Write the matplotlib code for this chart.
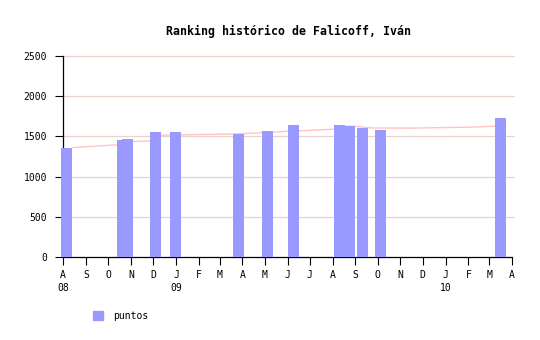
import matplotlib
matplotlib.use("Agg")
import matplotlib.pyplot as plt
import matplotlib.dates as mdates
from matplotlib.patches import Patch
from matplotlib.transforms import blended_transform_factory
import datetime as dt

# ---- data ----
bar_dates = ["2008-07-29", "2008-10-13", "2008-10-20", "2008-11-27", "2008-12-24",
             "2009-03-19", "2009-04-27", "2009-06-01", "2009-08-03", "2009-08-17",
             "2009-09-03", "2009-09-28", "2010-03-09"]
puntos = [1360, 1460, 1470, 1560, 1560, 1530, 1570, 1645, 1645, 1632, 1610, 1582, 1732]

line_dates = ["2008-08-13", "2008-10-13", "2008-11-03", "2008-11-27", "2008-12-11",
              "2009-03-19", "2009-04-03", "2009-05-12", "2009-06-01", "2009-06-16",
              "2009-08-03", "2009-08-17", "2009-09-01", "2009-09-23", "2009-11-15",
              "2010-02-04", "2010-03-09"]
line_vals = [1361, 1395, 1436, 1445, 1515, 1530, 1535, 1550, 1565, 1568,
             1590, 1628, 1625, 1605, 1603, 1615, 1628]

month_labels = ["A", "S", "O", "N", "D", "J", "F", "M", "A", "M", "J",
                "J", "A", "S", "O", "N", "D", "J", "F", "M", "A"]
year_labels = {"2008-08-01": "08", "2009-01-01": "09", "2010-01-01": "10"}
yticks = [0, 500, 1000, 1500, 2000, 2500]
title = "Ranking histórico de Falicoff, Iván"

bar_color = "#9999ff"
line_color = "#ffc4c4"
grid_color = "#e8d4cc"
mono = "DejaVu Sans Mono"

W, H = 540, 340
fig = plt.figure(figsize=(W / 100, H / 100), dpi=100)
ax = fig.add_axes([63 / W, 1 - 257 / H, (512 - 63) / W, (257 - 56) / H])

bd = [mdates.date2num(dt.datetime.fromisoformat(d)) for d in bar_dates]
ld = [mdates.date2num(dt.datetime.fromisoformat(d)) for d in line_dates]

ax.plot(ld, line_vals, color=line_color, lw=1.0, zorder=2, solid_capstyle="butt")
ax.bar(bd, puntos, width=15, align="edge", color=bar_color, zorder=3,
       linewidth=0, clip_on=False)

months = []
y, m = 2008, 8
for _ in month_labels:
    months.append(mdates.date2num(dt.datetime(y, m, 1)))
    m += 1
    if m > 12:
        m = 1
        y += 1

ax.set_xlim(months[0], months[-1])
ax.set_ylim(0, 2500)
ax.set_xticks(months)
ax.set_xticklabels(month_labels, fontsize=7, family=mono)
ax.set_yticks(yticks)
ax.set_yticklabels([str(v) for v in yticks], fontsize=7, family=mono)
ax.tick_params(axis="x", direction="out", length=6, width=0.8, pad=3.5)
ax.tick_params(axis="y", direction="out", length=6, width=0.8, pad=5.5)

for v in yticks[1:]:
    ax.axhline(v, color=grid_color, lw=0.9, zorder=1, xmax=1.005, clip_on=False)

for s in ["top", "right"]:
    ax.spines[s].set_visible(False)
for s in ["left", "bottom"]:
    ax.spines[s].set_linewidth(0.9)
    ax.spines[s].set_zorder(2.5)

tr = blended_transform_factory(ax.transData, ax.transAxes)
for d, lab in year_labels.items():
    x = mdates.date2num(dt.datetime.fromisoformat(d))
    ax.text(x, -31 / 201, lab, transform=tr, ha="center", va="center",
            fontsize=7, family=mono)

fig.text(289 / W, 1 - 31 / H, title, ha="center", va="center",
         fontsize=8.4, family=mono, fontweight="bold")

leg = fig.legend(handles=[Patch(color=bar_color, label="puntos")],
                 loc="center left", bbox_to_anchor=(93 / W, 1 - 316 / H),
                 frameon=False, prop={"family": mono, "size": 7},
                 handlelength=1.03, handleheight=1.1, handletextpad=1.0,
                 borderpad=0, borderaxespad=0)

fig.savefig("out.png", dpi=100, facecolor="white")
